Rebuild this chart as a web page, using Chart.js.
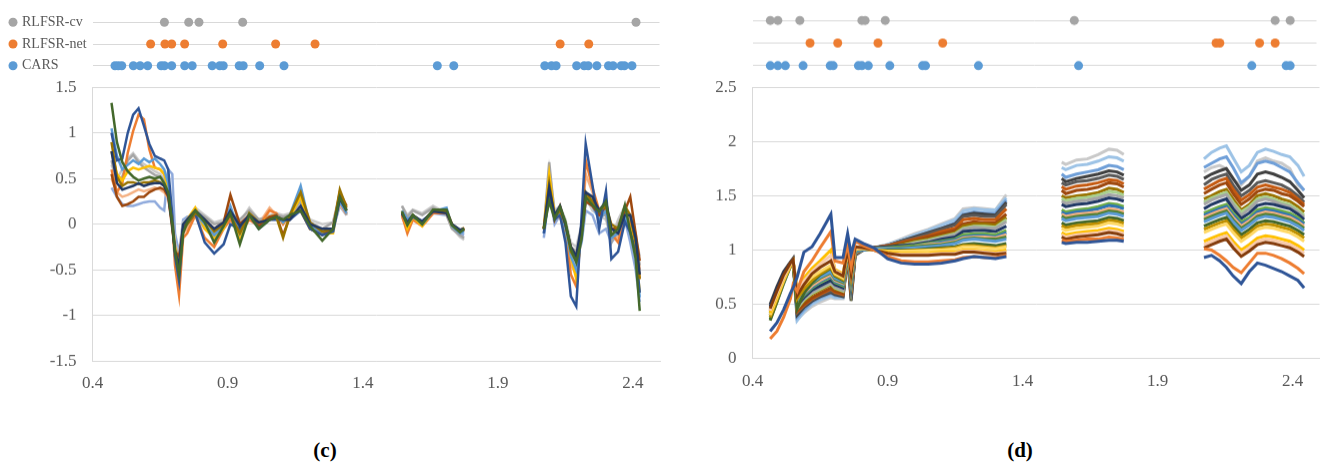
<!DOCTYPE html>
<html>
<head>
<meta charset="utf-8">
<script src="https://cdn.jsdelivr.net/npm/chart.js@4.4.1/dist/chart.umd.min.js"></script>
<style>
html, body { margin: 0; padding: 0; background: #fff; }
body { width: 1321px; height: 466px; position: relative; overflow: hidden; font-family: "Liberation Serif", "Times New Roman", serif; }
.box { position: absolute; }
.cap { position: absolute; top: 440px; width: 80px; text-align: center; font-size: 21px; line-height: 21px; font-weight: bold; color: #000; }
</style>
</head>
<body>
<div class="box" style="left:0;top:76px;width:664px;height:326.5px"><canvas id="mainC"></canvas></div>
<div class="box" style="left:660px;top:76px;width:661px;height:326.5px"><canvas id="mainD"></canvas></div>
<div class="box" style="left:0;top:0;width:664px;height:88px"><canvas id="stripC"></canvas></div>
<div class="box" style="left:660px;top:0;width:661px;height:80.5px"><canvas id="stripD"></canvas></div>
<div class="cap" style="left:285px">(c)</div>
<div class="cap" style="left:980px">(d)</div>
<script>
// axis ticks and strip rows
const xTicks = [0.4, 0.9, 1.4, 1.9, 2.4];
const stripRows = ['CARS', 'RLFSR-net', 'RLFSR-cv'];
const stripColors = ['#5B9BD5', '#ED7D31', '#A5A5A5'];

// selected wavelengths, panel (c)
const carsC = [0.483, 0.495, 0.508, 0.551, 0.576, 0.604, 0.654, 0.666, 0.693, 0.741, 0.769, 0.843, 0.871, 0.884, 0.943, 0.958, 1.019, 1.109, 1.677, 1.738, 2.075, 2.100, 2.117, 2.193, 2.221, 2.236, 2.268, 2.311, 2.328, 2.358, 2.370, 2.398];
const netC = [0.615, 0.668, 0.693, 0.741, 0.882, 1.078, 1.224, 2.132, 2.238];
const cvC = [0.666, 0.756, 0.794, 0.956, 2.413];

// selected wavelengths, panel (d)
const carsD = [0.466, 0.494, 0.522, 0.588, 0.689, 0.700, 0.794, 0.807, 0.831, 0.911, 1.033, 1.044, 1.241, 1.614, 2.259, 2.387, 2.402];
const netD = [0.614, 0.717, 0.867, 1.108, 2.126, 2.140, 2.288, 2.346];
const cvD = [0.466, 0.494, 0.576, 0.807, 0.819, 0.894, 1.598, 2.346, 2.402];

// spectra, panel (c): wavelength grid with gaps (null) at 1.45 and 1.9
const wavelengthC = [0.47, 0.49, 0.51, 0.53, 0.55, 0.57, 0.59, 0.61, 0.63, 0.65, 0.665, 0.68, 0.695, 0.705, 0.72, 0.735, 0.75, 0.78, 0.815, 0.85, 0.885, 0.91, 0.945, 0.98, 1.015, 1.055, 1.08, 1.105, 1.13, 1.17, 1.205, 1.25, 1.29, 1.315, 1.34,
  1.45,
  1.545, 1.565, 1.585, 1.62, 1.66, 1.71, 1.73, 1.76, 1.775,
  1.9,
  2.07, 2.09, 2.11, 2.13, 2.15, 2.17, 2.19, 2.21, 2.225, 2.25, 2.275, 2.3, 2.32, 2.345, 2.37, 2.39, 2.41, 2.425];

const cDarkGreen = [1.33, 0.9, 0.68, 0.58, 0.52, 0.48, 0.5, 0.52, 0.5, 0.52, 0.45, 0.35, 0.0, -0.3, -0.55, -0.1, 0.02, 0.15, 0.02, -0.2, -0.02, 0.12, -0.22, 0.1, -0.05, 0.05, 0.08, 0.05, 0.1, 0.15, -0.02, -0.18, -0.05, 0.3, 0.15,
  null, 0.14, -0.01, 0.1, 0.0, 0.16, 0.16, -0.01, -0.09, -0.05,
  null, -0.05, 0.25, 0.06, 0.19, 0.03, -0.27, -0.42, -0.16, 0.3, 0.21, 0.14, 0.25, -0.12, -0.05, 0.21, -0.08, -0.38, -0.95];
const cNavy = [1.0, 0.7, 0.72, 1.0, 1.2, 1.27, 1.08, 0.88, 0.75, 0.72, 0.7, 0.6, 0.1, -0.35, -0.62, -0.05, 0.0, 0.12, -0.2, -0.32, -0.22, 0.0, -0.05, 0.1, -0.05, 0.05, 0.05, 0.05, 0.05, 0.15, -0.05, -0.12, -0.08, 0.3, 0.15,
  null, 0.12, 0.0, 0.08, 0.02, 0.15, 0.14, 0.0, -0.08, -0.06,
  null, -0.1, 0.35, 0.05, 0.1, -0.2, -0.79, -0.9, 0.1, 0.88, 0.43, -0.05, 0.36, -0.38, -0.3, 0.03, -0.09, -0.3, -0.75];
const cOrange = [0.6, 0.35, 0.45, 0.78, 1.02, 1.2, 1.15, 0.82, 0.62, 0.6, 0.55, 0.45, 0.05, -0.45, -0.78, -0.15, -0.1, 0.1, -0.15, -0.25, -0.05, 0.05, -0.1, 0.05, -0.02, 0.15, 0.12, 0.0, 0.1, 0.15, -0.05, -0.1, -0.05, 0.25, 0.12,
  null, 0.1, -0.1, 0.05, -0.02, 0.12, 0.12, 0.0, -0.08, -0.04,
  null, -0.05, 0.45, 0.1, 0.08, -0.1, -0.55, -0.68, -0.05, 0.7, 0.4, 0.15, 0.15, -0.1, -0.2, 0.1, 0.0, -0.2, -0.6];
const cLightBlue = [0.4, 0.3, 0.22, 0.2, 0.2, 0.22, 0.24, 0.25, 0.25, 0.18, 0.15, 0.6, 0.55, -0.1, -0.32, 0.05, 0.08, 0.1, -0.05, -0.12, 0.0, 0.1, -0.05, 0.1, 0.0, 0.05, 0.1, 0.08, 0.1, 0.2, 0.0, -0.05, -0.05, 0.2, 0.1,
  null, 0.1, 0.02, 0.08, 0.04, 0.12, 0.1, -0.02, -0.1, -0.12,
  null, -0.15, 0.35, 0.0, 0.1, -0.15, -0.35, -0.4, -0.2, 0.15, 0.1, -0.1, -0.05, -0.2, -0.1, 0.05, -0.2, -0.5, -0.85];
const cYellow = [0.8, 0.55, 0.48, 0.58, 0.62, 0.6, 0.62, 0.64, 0.62, 0.6, 0.55, 0.4, 0.05, -0.25, -0.45, -0.05, 0.05, 0.18, -0.05, -0.15, -0.05, 0.15, -0.18, 0.12, 0.0, 0.08, 0.1, 0.02, 0.08, 0.3, -0.05, -0.1, -0.1, 0.3, 0.15,
  null, 0.15, -0.05, 0.08, -0.02, 0.15, 0.15, -0.02, -0.08, -0.06,
  null, -0.05, 0.55, 0.1, 0.18, -0.05, -0.35, -0.6, -0.1, 0.3, 0.25, 0.15, 0.2, -0.05, -0.05, 0.15, -0.05, -0.3, -0.75];
const cBrown = [0.55, 0.3, 0.2, 0.22, 0.25, 0.3, 0.3, 0.35, 0.38, 0.4, 0.38, 0.3, -0.05, -0.3, -0.35, -0.05, 0.02, 0.12, 0.05, -0.05, 0.02, 0.32, 0.0, 0.1, -0.02, 0.08, 0.1, -0.12, 0.08, 0.15, -0.05, -0.12, -0.05, 0.35, 0.2,
  null, 0.12, 0.0, 0.1, 0.02, 0.14, 0.15, 0.0, -0.08, -0.05,
  null, -0.05, 0.35, 0.05, 0.2, 0.0, -0.25, -0.35, -0.1, 0.25, 0.2, 0.1, 0.2, -0.05, -0.05, 0.15, 0.3, -0.1, -0.4];
const cOlive = [0.9, 0.52, 0.42, 0.46, 0.46, 0.44, 0.46, 0.46, 0.48, 0.46, 0.42, 0.32, 0.0, -0.28, -0.5, -0.08, 0.0, 0.12, 0.05, -0.08, 0.0, 0.1, -0.1, 0.12, 0.02, 0.05, 0.08, -0.15, 0.1, 0.35, 0.02, -0.08, -0.05, 0.38, 0.18,
  null, 0.13, 0.0, 0.1, 0.02, 0.15, 0.14, 0.0, -0.07, -0.04,
  null, -0.05, 0.45, 0.08, 0.15, 0.0, -0.3, -0.4, -0.1, 0.35, 0.25, 0.15, 0.2, 0.0, -0.05, 0.2, 0.1, -0.2, -0.6];
const cGray = [0.7, 0.48, 0.52, 0.7, 0.76, 0.68, 0.62, 0.58, 0.54, 0.52, 0.48, 0.38, 0.02, -0.22, -0.4, 0.0, 0.05, 0.15, 0.08, 0.0, 0.02, 0.12, 0.05, 0.15, 0.05, 0.08, 0.1, 0.08, 0.1, 0.25, 0.02, -0.05, 0.02, 0.3, 0.1,
  null, 0.2, 0.08, 0.15, 0.1, 0.18, 0.1, -0.05, -0.12, -0.15,
  null, -0.05, 0.68, 0.1, 0.15, 0.0, -0.25, -0.3, -0.05, 0.35, 0.2, 0.1, 0.1, -0.2, 0.0, 0.15, 0.0, -0.2, -0.45];
const cDarkNavy = [0.8, 0.45, 0.38, 0.4, 0.42, 0.45, 0.42, 0.44, 0.45, 0.45, 0.42, 0.32, -0.02, -0.3, -0.45, 0.0, 0.05, 0.15, 0.05, -0.05, 0.02, 0.15, -0.02, 0.1, 0.02, 0.05, 0.08, 0.05, 0.05, 0.2, 0.0, -0.05, -0.05, 0.28, 0.15,
  null, 0.12, 0.02, 0.1, 0.03, 0.14, 0.12, 0.0, -0.06, -0.05,
  null, -0.05, 0.4, 0.1, 0.2, 0.0, -0.25, -0.35, 0.0, 0.35, 0.3, 0.15, 0.25, -0.05, -0.1, 0.1, 0.1, -0.15, -0.55];
const cBlue = [1.05, 0.75, 0.6, 0.65, 0.7, 0.66, 0.72, 0.68, 0.72, 0.66, 0.6, 0.45, 0.05, -0.3, -0.55, -0.05, 0.02, 0.12, 0.0, -0.12, -0.02, 0.2, -0.1, 0.12, -0.02, 0.06, 0.1, 0.02, 0.1, 0.42, -0.02, -0.1, -0.08, 0.25, 0.12,
  null, 0.15, 0.05, 0.1, 0.0, 0.14, 0.18, -0.02, -0.1, -0.08,
  null, -0.1, 0.35, 0.05, 0.15, -0.05, -0.35, -0.5, -0.15, 0.25, 0.2, 0.05, 0.15, -0.15, -0.1, 0.1, -0.1, -0.35, -0.8];
const cLightOrange = [0.5, 0.35, 0.3, 0.32, 0.35, 0.38, 0.36, 0.38, 0.4, 0.38, 0.35, 0.28, 0.0, -0.35, -0.5, -0.1, -0.05, 0.1, 0.0, -0.15, -0.05, 0.08, -0.05, 0.1, 0.0, 0.18, 0.1, 0.05, 0.08, 0.2, 0.0, -0.08, -0.05, 0.22, 0.1,
  null, 0.08, -0.05, 0.06, -0.02, 0.12, 0.12, -0.02, -0.1, -0.06,
  null, -0.05, 0.3, 0.05, 0.1, -0.1, -0.45, -0.55, -0.05, 0.55, 0.35, 0.1, 0.1, -0.1, -0.15, 0.1, 0.05, -0.1, -0.5];
const cLightGray = [0.65, 0.5, 0.6, 0.72, 0.78, 0.7, 0.66, 0.62, 0.58, 0.55, 0.5, 0.4, 0.05, -0.2, -0.35, 0.02, 0.05, 0.18, 0.1, 0.02, 0.05, 0.15, 0.02, 0.18, 0.05, 0.1, 0.12, 0.1, 0.12, 0.25, 0.05, 0.0, 0.02, 0.35, 0.12,
  null, 0.2, 0.1, 0.16, 0.12, 0.2, 0.12, -0.04, -0.14, -0.17,
  null, -0.05, 0.6, 0.15, 0.2, 0.05, -0.2, -0.25, 0.0, 0.3, 0.15, 0.1, 0.05, -0.15, 0.05, 0.2, 0.05, -0.15, -0.35];

// spectra, panel (d)
const wavelengthD = [0.465, 0.49, 0.515, 0.54, 0.55, 0.565, 0.59, 0.62, 0.65, 0.69, 0.705, 0.735, 0.752, 0.765, 0.78, 0.81, 0.85, 0.9, 0.95, 1.0, 1.05, 1.1, 1.15, 1.18, 1.22, 1.26, 1.3, 1.34,
  1.45,
  1.545, 1.56, 1.6, 1.64, 1.68, 1.72, 1.75, 1.775,
  1.9,
  2.072, 2.1, 2.13, 2.155, 2.18, 2.21, 2.24, 2.27, 2.3, 2.33, 2.36, 2.39, 2.42, 2.443];

const dLightGray = [0.45, 0.6, 0.75, 0.87, 0.9, 0.36, 0.42, 0.48, 0.52, 0.56, 0.55, 0.55, 0.95, 0.58, 0.95, 1.0, 1.02, 1.05, 1.1, 1.15, 1.19, 1.24, 1.29, 1.38, 1.39, 1.38, 1.37, 1.51,
  null, 1.81, 1.79, 1.83, 1.84, 1.88, 1.93, 1.92, 1.88,
  null, 1.72, 1.76, 1.78, 1.75, 1.65, 1.6, 1.68, 1.82, 1.85, 1.82, 1.8, 1.75, 1.6, 1.55];
const dSkyBlue = [0.42, 0.58, 0.73, 0.86, 0.9, 0.35, 0.43, 0.5, 0.54, 0.58, 0.56, 0.56, 0.96, 0.6, 0.96, 1.0, 1.02, 1.05, 1.09, 1.14, 1.18, 1.23, 1.28, 1.36, 1.38, 1.37, 1.37, 1.48,
  null, 1.76, 1.74, 1.78, 1.79, 1.82, 1.86, 1.85, 1.82,
  null, 1.84, 1.9, 1.94, 1.96, 1.85, 1.72, 1.78, 1.9, 1.93, 1.91, 1.88, 1.86, 1.78, 1.68];
const dMidBlue = [0.4, 0.56, 0.72, 0.86, 0.89, 0.38, 0.45, 0.52, 0.56, 0.6, 0.58, 0.57, 0.96, 0.6, 0.97, 1.0, 1.02, 1.04, 1.08, 1.12, 1.16, 1.2, 1.25, 1.33, 1.35, 1.34, 1.34, 1.46,
  null, 1.7, 1.67, 1.7, 1.72, 1.74, 1.78, 1.77, 1.74,
  null, 1.76, 1.8, 1.84, 1.86, 1.76, 1.62, 1.68, 1.8, 1.82, 1.8, 1.76, 1.72, 1.62, 1.55];
const dCharcoal = [0.5, 0.66, 0.8, 0.89, 0.92, 0.4, 0.47, 0.53, 0.57, 0.61, 0.59, 0.57, 0.94, 0.53, 0.96, 1.0, 1.02, 1.04, 1.08, 1.12, 1.16, 1.2, 1.24, 1.32, 1.34, 1.33, 1.32, 1.44,
  null, 1.66, 1.63, 1.66, 1.68, 1.7, 1.73, 1.72, 1.69,
  null, 1.66, 1.7, 1.73, 1.75, 1.66, 1.55, 1.6, 1.7, 1.72, 1.7, 1.67, 1.63, 1.55, 1.48];
const dDarkGray = [0.47, 0.63, 0.78, 0.88, 0.92, 0.42, 0.48, 0.54, 0.58, 0.62, 0.6, 0.58, 0.95, 0.55, 0.95, 1.0, 1.02, 1.04, 1.08, 1.11, 1.15, 1.19, 1.23, 1.31, 1.32, 1.31, 1.31, 1.42,
  null, 1.62, 1.6, 1.63, 1.64, 1.66, 1.69, 1.68, 1.65,
  null, 1.6, 1.65, 1.68, 1.7, 1.6, 1.5, 1.55, 1.62, 1.64, 1.62, 1.6, 1.56, 1.5, 1.44];
const dRust = [0.44, 0.6, 0.76, 0.87, 0.9, 0.43, 0.49, 0.55, 0.59, 0.64, 0.61, 0.59, 0.96, 0.6, 0.97, 1.0, 1.02, 1.04, 1.07, 1.1, 1.13, 1.17, 1.2, 1.28, 1.29, 1.28, 1.28, 1.38,
  null, 1.585, 1.56, 1.59, 1.6, 1.62, 1.65, 1.64, 1.61,
  null, 1.56, 1.6, 1.64, 1.66, 1.56, 1.46, 1.51, 1.58, 1.6, 1.58, 1.56, 1.53, 1.47, 1.42];
const dBrown = [0.45, 0.6, 0.76, 0.87, 0.9, 0.44, 0.5, 0.56, 0.6, 0.65, 0.62, 0.6, 0.97, 0.62, 0.98, 1.0, 1.02, 1.03, 1.06, 1.09, 1.12, 1.15, 1.18, 1.24, 1.26, 1.25, 1.25, 1.33,
  null, 1.55, 1.52, 1.55, 1.56, 1.58, 1.62, 1.61, 1.58,
  null, 1.52, 1.56, 1.6, 1.62, 1.52, 1.42, 1.47, 1.54, 1.56, 1.55, 1.52, 1.5, 1.45, 1.4];
const dOlive = [0.4, 0.55, 0.72, 0.86, 0.89, 0.46, 0.53, 0.59, 0.63, 0.68, 0.64, 0.62, 0.97, 0.65, 0.98, 1.0, 1.02, 1.03, 1.05, 1.08, 1.1, 1.13, 1.16, 1.22, 1.24, 1.24, 1.23, 1.3,
  null, 1.5, 1.48, 1.5, 1.51, 1.53, 1.57, 1.56, 1.53,
  null, 1.47, 1.5, 1.54, 1.56, 1.47, 1.37, 1.42, 1.5, 1.52, 1.5, 1.47, 1.45, 1.4, 1.35];
const dPaleGreen = [0.45, 0.6, 0.75, 0.87, 0.9, 0.46, 0.54, 0.6, 0.64, 0.69, 0.65, 0.62, 0.97, 0.65, 0.98, 1.0, 1.01, 1.02, 1.04, 1.07, 1.09, 1.12, 1.15, 1.2, 1.22, 1.22, 1.21, 1.28,
  null, 1.475, 1.455, 1.475, 1.485, 1.505, 1.54, 1.53, 1.505,
  null, 1.44, 1.48, 1.51, 1.53, 1.44, 1.35, 1.4, 1.47, 1.49, 1.47, 1.44, 1.42, 1.37, 1.32];
const dGray = [0.43, 0.58, 0.74, 0.87, 0.9, 0.47, 0.55, 0.61, 0.65, 0.7, 0.66, 0.63, 0.97, 0.66, 0.98, 1.0, 1.01, 1.02, 1.04, 1.06, 1.08, 1.11, 1.14, 1.19, 1.21, 1.2, 1.2, 1.26,
  null, 1.45, 1.43, 1.45, 1.46, 1.48, 1.51, 1.5, 1.48,
  null, 1.42, 1.46, 1.49, 1.51, 1.42, 1.32, 1.38, 1.45, 1.47, 1.45, 1.42, 1.4, 1.35, 1.3];
const dDarkNavy = [0.48, 0.64, 0.79, 0.88, 0.91, 0.49, 0.56, 0.63, 0.67, 0.72, 0.68, 0.65, 0.98, 0.67, 0.99, 1.01, 1.02, 1.03, 1.04, 1.05, 1.07, 1.1, 1.12, 1.17, 1.18, 1.18, 1.17, 1.22,
  null, 1.42, 1.4, 1.42, 1.43, 1.45, 1.48, 1.47, 1.45,
  null, 1.38, 1.42, 1.45, 1.47, 1.38, 1.29, 1.34, 1.41, 1.43, 1.42, 1.4, 1.38, 1.33, 1.28];
const dGreen = [0.42, 0.57, 0.73, 0.86, 0.9, 0.5, 0.58, 0.65, 0.7, 0.75, 0.7, 0.67, 0.98, 0.7, 0.99, 1.0, 1.01, 1.02, 1.03, 1.04, 1.06, 1.08, 1.1, 1.14, 1.15, 1.15, 1.14, 1.18,
  null, 1.37, 1.35, 1.37, 1.38, 1.4, 1.43, 1.42, 1.4,
  null, 1.34, 1.37, 1.4, 1.42, 1.34, 1.26, 1.3, 1.37, 1.39, 1.38, 1.36, 1.34, 1.3, 1.25];
const dSteelBlue = [0.4, 0.56, 0.72, 0.86, 0.9, 0.51, 0.59, 0.66, 0.71, 0.76, 0.71, 0.68, 0.98, 0.71, 0.99, 1.0, 1.01, 1.01, 1.02, 1.03, 1.05, 1.07, 1.09, 1.12, 1.13, 1.13, 1.12, 1.16,
  null, 1.35, 1.33, 1.35, 1.36, 1.38, 1.41, 1.4, 1.38,
  null, 1.32, 1.35, 1.38, 1.4, 1.32, 1.24, 1.28, 1.35, 1.37, 1.36, 1.34, 1.32, 1.28, 1.24];
const dLightOrange = [0.44, 0.6, 0.75, 0.87, 0.9, 0.52, 0.6, 0.67, 0.72, 0.77, 0.72, 0.69, 0.99, 0.72, 1.0, 1.01, 1.01, 1.01, 1.02, 1.03, 1.05, 1.06, 1.08, 1.11, 1.12, 1.12, 1.11, 1.14,
  null, 1.33, 1.31, 1.33, 1.34, 1.35, 1.38, 1.37, 1.35,
  null, 1.3, 1.33, 1.36, 1.38, 1.3, 1.22, 1.27, 1.33, 1.35, 1.34, 1.32, 1.3, 1.26, 1.22];
const dMossGreen = [0.36, 0.52, 0.69, 0.85, 0.89, 0.53, 0.61, 0.69, 0.74, 0.79, 0.73, 0.7, 0.99, 0.73, 1.0, 1.01, 1.01, 1.01, 1.02, 1.03, 1.04, 1.05, 1.07, 1.1, 1.11, 1.1, 1.1, 1.12,
  null, 1.31, 1.29, 1.31, 1.32, 1.33, 1.36, 1.35, 1.33,
  null, 1.28, 1.31, 1.34, 1.36, 1.28, 1.2, 1.25, 1.31, 1.33, 1.32, 1.3, 1.28, 1.24, 1.2];
const dBlue = [0.38, 0.54, 0.7, 0.85, 0.89, 0.54, 0.62, 0.7, 0.75, 0.8, 0.74, 0.71, 0.99, 0.74, 1.0, 1.01, 1.01, 1.01, 1.01, 1.02, 1.03, 1.04, 1.06, 1.09, 1.1, 1.09, 1.08, 1.1,
  null, 1.29, 1.27, 1.29, 1.3, 1.31, 1.34, 1.33, 1.31,
  null, 1.26, 1.29, 1.32, 1.34, 1.26, 1.18, 1.23, 1.29, 1.31, 1.3, 1.28, 1.26, 1.22, 1.18];
const dDarkGreen = [0.35, 0.52, 0.7, 0.85, 0.88, 0.46, 0.6, 0.7, 0.77, 0.83, 0.76, 0.72, 1.0, 0.75, 1.01, 1.01, 1.0, 1.0, 1.0, 1.0, 1.01, 1.02, 1.03, 1.05, 1.06, 1.05, 1.04, 1.06,
  null, 1.25, 1.23, 1.25, 1.26, 1.27, 1.3, 1.29, 1.27,
  null, 1.22, 1.25, 1.28, 1.3, 1.22, 1.14, 1.19, 1.25, 1.27, 1.26, 1.24, 1.22, 1.18, 1.14];
const dDarkGold = [0.38, 0.54, 0.71, 0.85, 0.89, 0.55, 0.64, 0.72, 0.78, 0.84, 0.77, 0.73, 1.0, 0.76, 1.01, 1.01, 1.0, 0.99, 0.99, 1.0, 1.0, 1.01, 1.02, 1.04, 1.04, 1.03, 1.02, 1.04,
  null, 1.225, 1.205, 1.225, 1.235, 1.245, 1.275, 1.265, 1.245,
  null, 1.19, 1.22, 1.25, 1.27, 1.19, 1.11, 1.16, 1.22, 1.24, 1.23, 1.21, 1.19, 1.15, 1.11];
const dLightGold = [0.4, 0.56, 0.72, 0.86, 0.9, 0.6, 0.68, 0.75, 0.8, 0.86, 0.78, 0.74, 1.0, 0.77, 1.01, 1.01, 1.0, 0.99, 0.99, 0.99, 1.0, 1.0, 1.01, 1.03, 1.03, 1.02, 1.01, 1.03,
  null, 1.2, 1.18, 1.2, 1.21, 1.22, 1.25, 1.24, 1.22,
  null, 1.16, 1.19, 1.22, 1.24, 1.16, 1.08, 1.13, 1.19, 1.21, 1.2, 1.18, 1.16, 1.12, 1.08];
const dYellow = [0.42, 0.58, 0.74, 0.86, 0.9, 0.65, 0.74, 0.83, 0.9, 1.0, 0.82, 0.78, 1.01, 0.8, 1.02, 1.02, 1.0, 0.98, 0.97, 0.97, 0.97, 0.98, 0.98, 1.0, 1.0, 0.99, 0.98, 1.0,
  null, 1.16, 1.14, 1.16, 1.17, 1.18, 1.2, 1.19, 1.17,
  null, 1.08, 1.11, 1.14, 1.16, 1.08, 1.0, 1.05, 1.11, 1.13, 1.12, 1.1, 1.08, 1.04, 1.0];
const dPeach = [0.44, 0.6, 0.75, 0.87, 0.9, 0.62, 0.71, 0.8, 0.87, 0.95, 0.81, 0.77, 1.01, 0.79, 1.02, 1.02, 1.0, 0.97, 0.96, 0.96, 0.96, 0.97, 0.97, 0.99, 0.99, 0.98, 0.97, 0.98,
  null, 1.14, 1.12, 1.14, 1.15, 1.16, 1.18, 1.17, 1.15,
  null, 1.05, 1.08, 1.11, 1.13, 1.05, 0.97, 1.02, 1.08, 1.1, 1.09, 1.07, 1.05, 1.01, 0.97];
const dDarkBrown = [0.46, 0.62, 0.77, 0.88, 0.91, 0.58, 0.68, 0.78, 0.84, 0.9, 0.8, 0.76, 1.02, 0.78, 1.03, 1.02, 1.0, 0.97, 0.95, 0.95, 0.95, 0.96, 0.96, 0.98, 0.98, 0.97, 0.96, 0.97,
  null, 1.12, 1.1, 1.12, 1.13, 1.14, 1.16, 1.15, 1.13,
  null, 1.02, 1.05, 1.08, 1.1, 1.02, 0.94, 0.99, 1.05, 1.07, 1.06, 1.04, 1.02, 0.98, 0.94];
const dOrange = [0.18, 0.25, 0.38, 0.55, 0.68, 0.62, 0.8, 0.9, 1.02, 1.17, 0.9, 0.88, 1.05, 0.85, 1.08, 1.04, 1.0, 0.94, 0.9, 0.89, 0.89, 0.9, 0.91, 0.93, 0.94, 0.93, 0.93, 0.95,
  null, 1.09, 1.08, 1.09, 1.1, 1.1, 1.12, 1.11, 1.1,
  null, 1.01, 1.0, 0.95, 0.9, 0.84, 0.79, 0.88, 0.97, 0.97, 0.95, 0.92, 0.88, 0.83, 0.78];
const dNavy = [0.25, 0.33, 0.45, 0.6, 0.65, 0.75, 0.98, 1.03, 1.15, 1.33, 0.93, 0.93, 1.15, 0.96, 1.1, 1.06, 1.02, 0.92, 0.88, 0.87, 0.87, 0.88, 0.9, 0.92, 0.94, 0.93, 0.92, 0.94,
  null, 1.07, 1.06, 1.07, 1.07, 1.08, 1.09, 1.09, 1.08,
  null, 0.93, 0.95, 0.9, 0.84, 0.76, 0.69, 0.8, 0.88, 0.86, 0.83, 0.8, 0.76, 0.72, 0.65];

// first entry is drawn on top
const linesC = [
  [cDarkGreen, '#43682B'], [cDarkNavy, '#203864'], [cOlive, '#997300'], [cNavy, '#2F5597'],
  [cBrown, '#9E480E'], [cBlue, '#5B9BD5'], [cYellow, '#FFC000'], [cOrange, '#ED7D31'],
  [cGray, '#A5A5A5'], [cLightOrange, '#F4B183'], [cLightGray, '#C9C9C9'], [cLightBlue, '#8FAADC']
];
const linesD = [
  [dNavy, '#2F5597'], [dOrange, '#ED7D31'], [dDarkBrown, '#843C0C'], [dPeach, '#F8CBAD'],
  [dYellow, '#FFC000'], [dLightGold, '#FFD966'], [dDarkGold, '#BF9000'], [dDarkGreen, '#43682B'],
  [dBlue, '#5B9BD5'], [dMossGreen, '#548235'], [dLightOrange, '#F4B183'], [dSteelBlue, '#2E75B6'],
  [dGreen, '#70AD47'], [dDarkNavy, '#203864'], [dGray, '#A5A5A5'], [dPaleGreen, '#A9D18E'],
  [dOlive, '#997300'], [dBrown, '#9E480E'], [dRust, '#C55A11'], [dDarkGray, '#595959'],
  [dCharcoal, '#404040'], [dMidBlue, '#6F9FD8'], [dSkyBlue, '#9DC3E6'], [dLightGray, '#C9C9C9']
];

Chart.defaults.font.family = "'Liberation Serif', 'Times New Roman', serif";
Chart.defaults.font.size = 17;
Chart.defaults.color = '#595959';
Chart.defaults.animation = false;

const gridColor = '#D9D9D9';

const rowDots = {
    id: 'rowDots',
    afterDraw(chart, args, opts) {
        if (!opts.show) return;
        const y = chart.scales.y;
        const ctx = chart.ctx;
        y.ticks.forEach(t => {
            ctx.beginPath();
            ctx.fillStyle = stripColors[t.value - 1];
            ctx.arc(13, y.getPixelForValue(t.value), 4.5, 0, Math.PI * 2);
            ctx.fill();
        });
    }
};

function makeStrip(elId, rows, showLabels, axisWidth, padLeft) {
    const datasets = rows.map((xs, i) => ({
        data: xs.map(x => ({ x, y: i + 1 })),
        backgroundColor: stripColors[i],
        borderWidth: 0,
        pointRadius: 4.5,
        pointHoverRadius: 4.5
    }));
    return new Chart(document.getElementById(elId), {
        type: 'scatter',
        data: { datasets },
        plugins: [rowDots],
        options: {
            responsive: true,
            maintainAspectRatio: false,
            layout: { padding: { left: padLeft, right: 4, top: 9, bottom: 0 } },
            plugins: { legend: { display: false }, tooltip: { enabled: false }, rowDots: { show: showLabels } },
            scales: {
                x: { type: 'linear', min: 0.4, max: 2.5, display: false },
                y: {
                    type: 'linear', min: 0.5, max: 3.5,
                    afterBuildTicks: s => { s.ticks = [1, 2, 3].map(v => ({ value: v })); },
                    afterFit: s => { s.width = axisWidth; },
                    grid: { color: gridColor, drawTicks: false },
                    border: { display: false },
                    ticks: { display: showLabels, crossAlign: 'far', font: { size: 14 }, callback: v => stripRows[v - 1] }
                }
            }
        }
    });
}

function makeMain(elId, wl, lines, yMin, yMax, xHeight, padRight, lineWidth) {
    const datasets = lines.map(([vals, color]) => ({
        data: wl.map((x, i) => ({ x, y: vals[i] })),
        borderColor: color,
        borderWidth: lineWidth,
        pointRadius: 0,
        tension: 0,
        spanGaps: false
    }));
    return new Chart(document.getElementById(elId), {
        type: 'line',
        data: { datasets },
        options: {
            responsive: true,
            maintainAspectRatio: false,
            layout: { padding: { left: 0, right: padRight, top: 11.3, bottom: 0 } },
            plugins: { legend: { display: false }, tooltip: { enabled: false } },
            scales: {
                x: {
                    type: 'linear', min: 0.4, max: 2.5,
                    afterBuildTicks: s => { s.ticks = xTicks.map(v => ({ value: v })); },
                    afterFit: s => { s.height = xHeight; s.paddingLeft = 0; s.paddingRight = 0; },
                    grid: { display: false },
                    border: { display: true, color: gridColor },
                    ticks: { padding: 4.5, maxRotation: 0, callback: v => String(v) }
                },
                y: {
                    min: yMin, max: yMax,
                    ticks: { stepSize: 0.5, padding: 16, callback: v => String(Number(v.toFixed(2))) },
                    afterFit: s => { s.width = 92.6; s.paddingTop = 0; s.paddingBottom = 0; },
                    grid: { color: gridColor, drawTicks: false },
                    border: { display: true, color: gridColor }
                }
            }
        }
    });
}

makeMain('mainC', wavelengthC, linesC, -1.5, 1.5, 42.3, 4, 2.5);
makeMain('mainD', wavelengthD, linesD, 0, 2.5, 45, 0, 3);
makeStrip('stripC', [carsC, netC, cvC], true, 70.6, 22);
makeStrip('stripD', [carsD, netD, cvD], false, 92.6, 0);
</script>
</body>
</html>
